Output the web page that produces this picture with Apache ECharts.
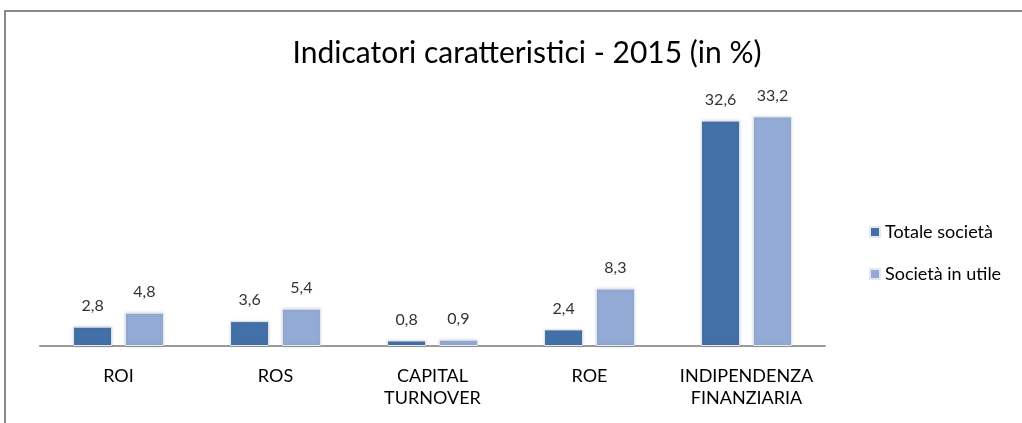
<!DOCTYPE html>
<html>
<head>
<meta charset="utf-8">
<script src="https://cdn.jsdelivr.net/npm/echarts@6/dist/echarts.min.js"></script>
<style>
  html, body { margin: 0; padding: 0; background: #fff; }
  #chart { width: 1022px; height: 423px; }
</style>
</head>
<body>
<div id="chart"></div>
<script>
const categories = ['ROI', 'ROS', 'CAPITAL\nTURNOVER', 'ROE', 'INDIPENDENZA\nFINANZIARIA'];
const totaleSocieta = [2.8, 3.6, 0.8, 2.4, 32.6];
const societaInUtile = [4.8, 5.4, 0.9, 8.3, 33.2];

const chart = echarts.init(document.getElementById('chart'));

const labelStyle = {
  show: true,
  position: 'top',
  distance: 13,
  fontFamily: 'Lato',
  fontSize: 16,
  color: '#333',
  formatter: (p) => String(p.value).replace('.', ','),
};

const option = {
  animation: false,
  backgroundColor: '#fff',
  graphic: [
    {
      type: 'rect',
      shape: { x: 5, y: 11, width: 1040, height: 440 },
      style: { fill: 'none', stroke: '#8a8a8a', lineWidth: 2 },
      silent: true,
    },
  ],
  title: {
    text: 'Indicatori caratteristici - 2015 (in %)',
    left: 522,
    textAlign: 'center',
    top: 33,
    textStyle: {
      fontFamily: 'Lato',
      fontWeight: 'normal',
      fontSize: 30,
      color: '#000',
    },
  },
  legend: {
    orient: 'vertical',
    left: 864,
    top: 218,
    itemWidth: 10,
    itemHeight: 10,
    itemGap: 24,
    icon: 'rect',
    textStyle: {
      fontFamily: 'Lato',
      fontSize: 18,
      color: '#000',
    },
    data: ['Totale società', 'Società in utile'],
  },
  grid: {
    left: 40,
    width: 785,
    top: 104,
    bottom: 77,
  },
  xAxis: {
    type: 'category',
    data: categories,
    axisLine: { lineStyle: { color: '#9a9a9a', width: 2 } },
    axisTick: { show: false },
    axisLabel: {
      interval: 0,
      margin: 19,
      fontFamily: 'Lato',
      fontSize: 18,
      lineHeight: 22,
      color: '#000',
    },
  },
  yAxis: {
    type: 'value',
    min: 0,
    max: 35,
    show: false,
    splitLine: { show: false },
  },
  series: [
    {
      name: 'Totale società',
      type: 'bar',
      data: totaleSocieta,
      barWidth: 39,
      barGap: '33%',
      itemStyle: {
        color: '#4470a8',
        borderColor: '#e4e8ef',
        borderWidth: 1,
        shadowColor: 'rgba(0,0,0,0.15)',
        shadowBlur: 3,
      },
      label: labelStyle,
    },
    {
      name: 'Società in utile',
      type: 'bar',
      data: societaInUtile,
      barWidth: 39,
      itemStyle: {
        color: '#93aad4',
        borderColor: '#e4e8ef',
        borderWidth: 1,
        shadowColor: 'rgba(0,0,0,0.15)',
        shadowBlur: 3,
      },
      label: labelStyle,
    },
  ],
};

chart.setOption(option);
</script>
</body>
</html>
